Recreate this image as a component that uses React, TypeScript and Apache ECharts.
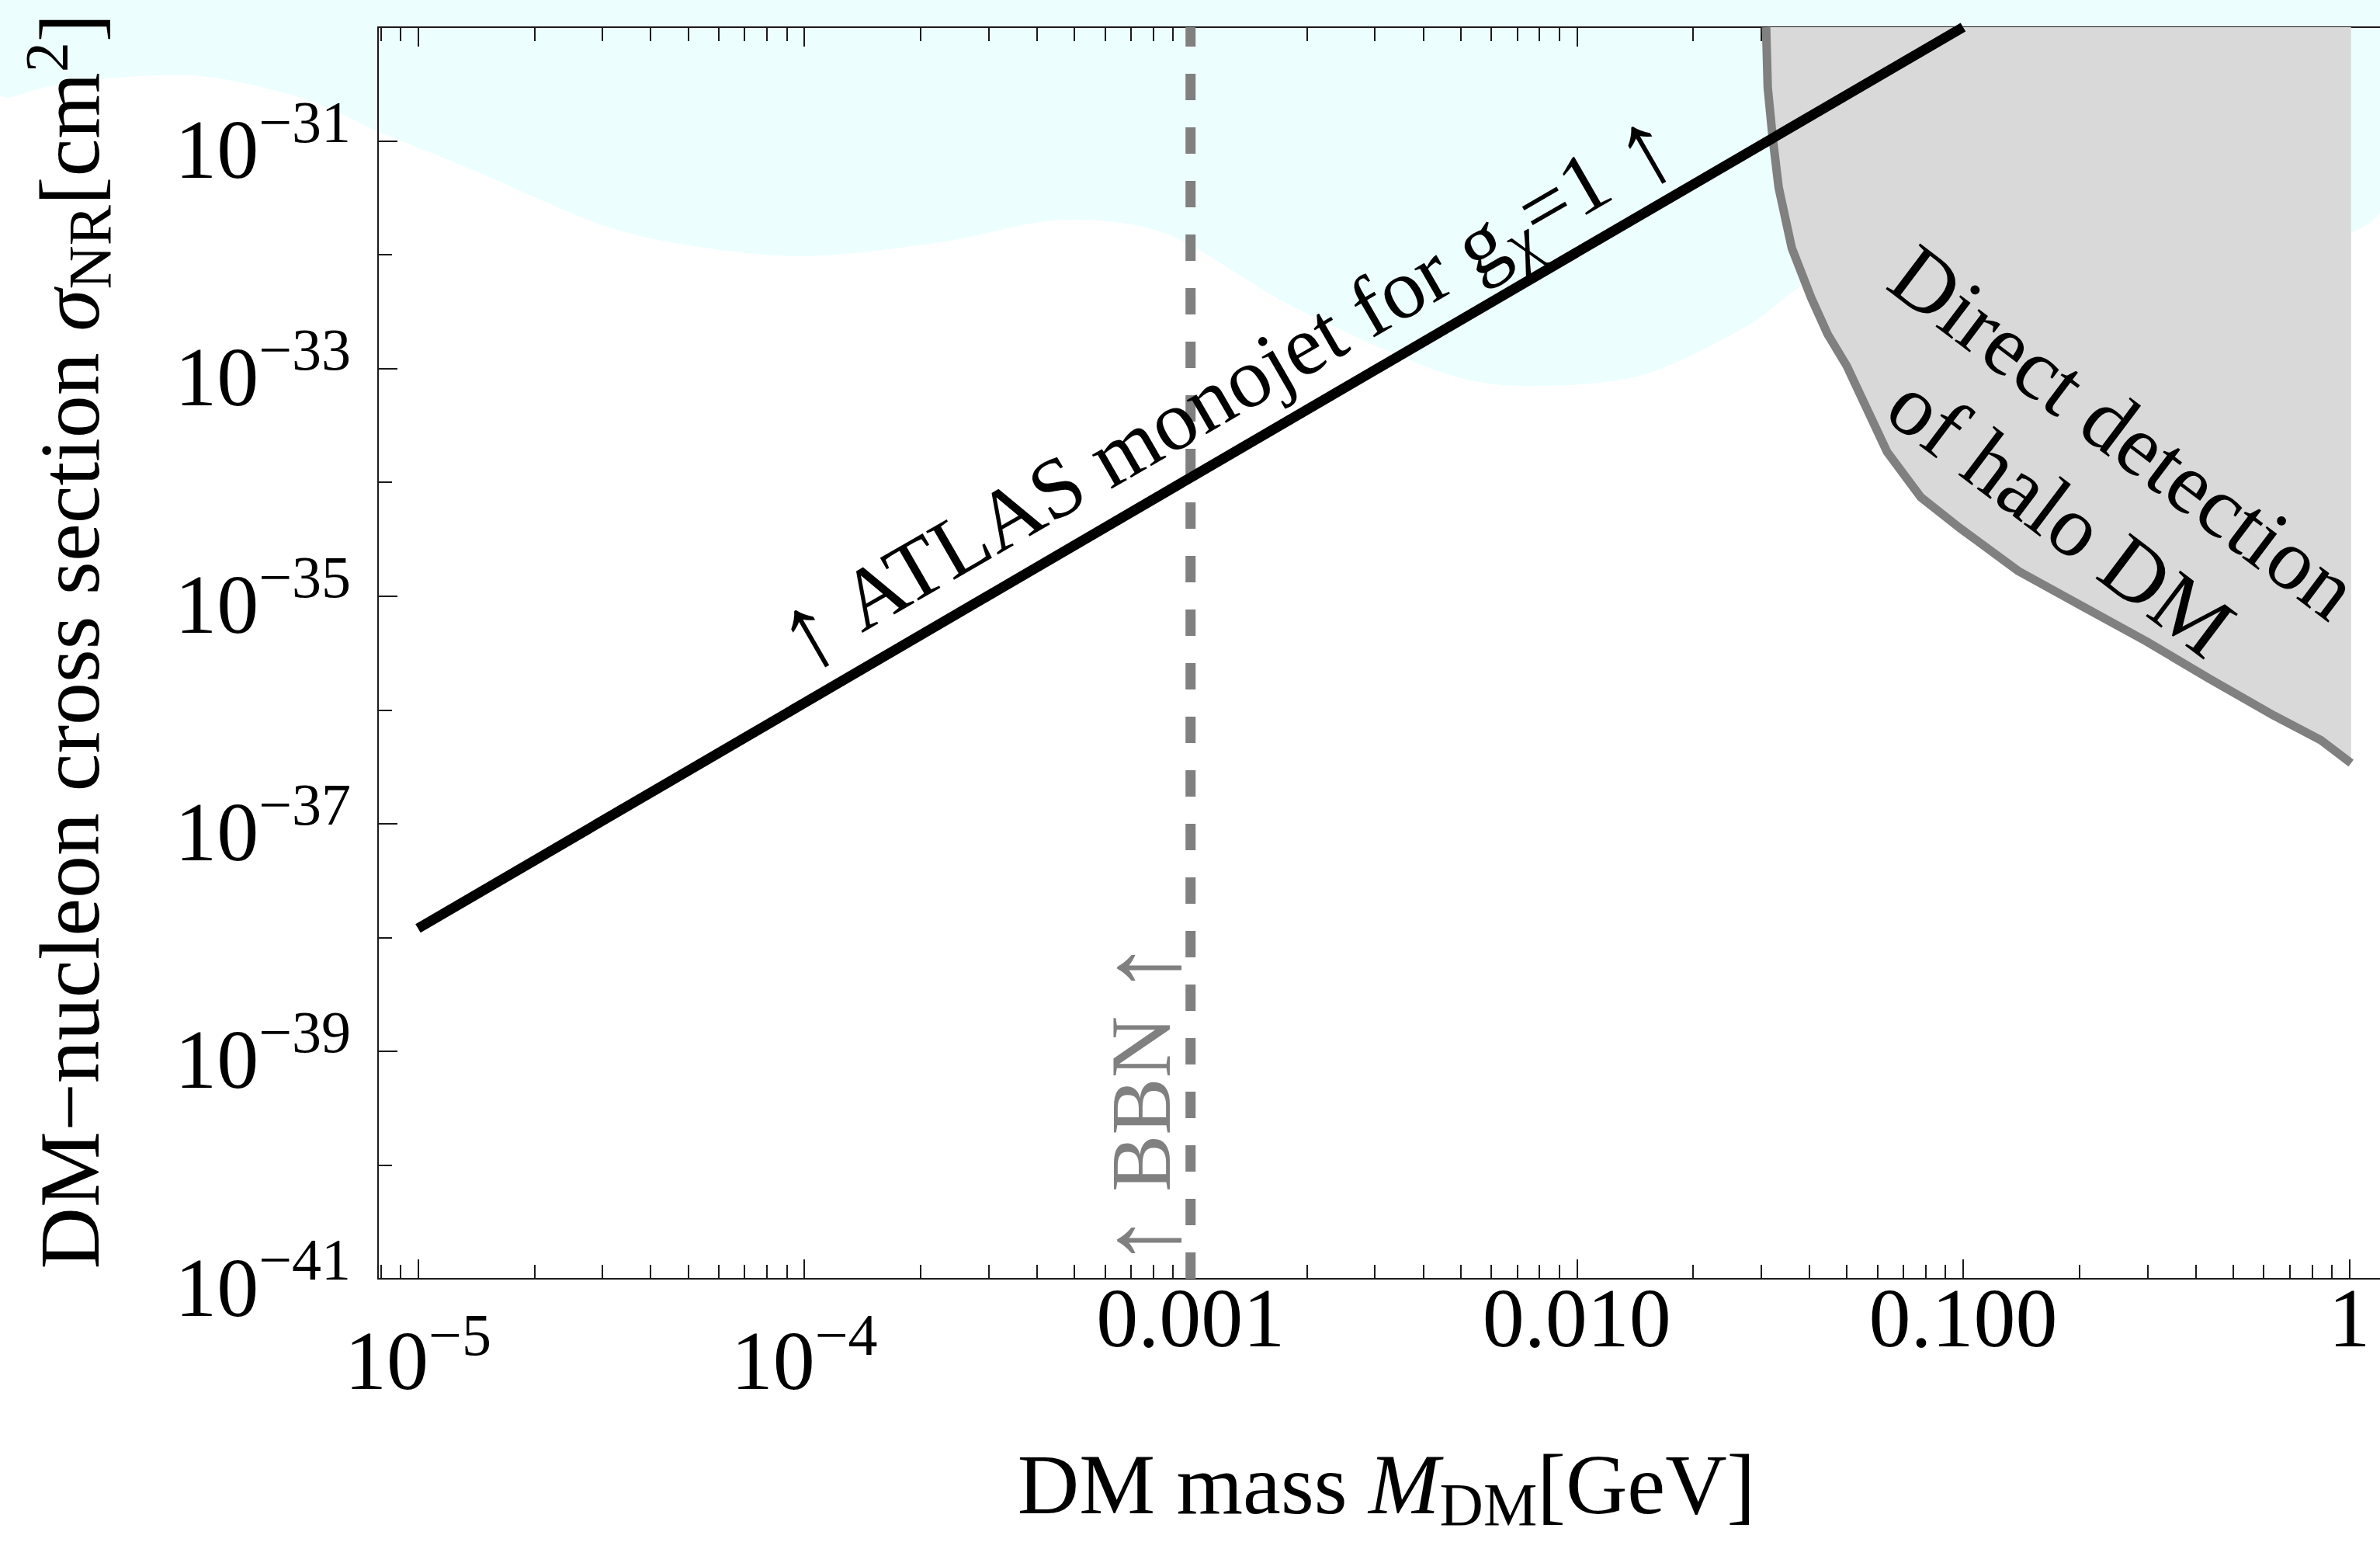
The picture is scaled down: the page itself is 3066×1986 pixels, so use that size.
import { useEffect, useRef } from 'react';
import * as echarts from 'echarts';

const FONT = "'Liberation Serif', 'Times New Roman', Times, serif";
const W = 3066;
const H = 1986;

// ATLAS monojet bound for g_chi = 1  (mass in GeV, cross section in cm^2)
const atlasMass = [1e-5, 1e-4, 1e-3, 1e-2, 1e-1];
const atlasSigma = [1.2e-38, 1.15e-36, 1.1e-34, 1.05e-32, 1.0e-30];

// Boundary of the region excluded by direct detection of halo DM
const haloMass = [0.0309, 0.0312, 0.0321, 0.0333, 0.036, 0.0404, 0.0446, 0.05, 0.0635, 0.0777, 0.0977, 0.139, 0.204, 0.298, 0.436, 0.638, 0.844, 1.01];
const haloSigma = [1e-30, 2.95e-31, 1.1e-31, 3.9e-32, 1.15e-32, 4.2e-33, 2.0e-33, 1.05e-33, 1.86e-34, 7.4e-35, 4.0e-35, 1.66e-35, 8.1e-36, 4.0e-36, 1.86e-36, 8.9e-37, 5.4e-37, 3.4e-37];

// BBN bound (vertical line)
const bbnMass = [1e-3, 1e-3];
const bbnSigma = [1e-41, 1e-30];

// axes
const xRange = [7.88e-6, 1.2];
const yRange = [1e-41, 1e-30];
const xMajorTicks = [1e-5, 1e-4, 1e-3, 1e-2, 1e-1, 1];
const xTickLabels = ['10^−5', '10^−4', '0.001', '0.010', '0.100', '1'];
const xMinorDecades = [1e-6, 1e-5, 1e-4, 1e-3, 1e-2, 1e-1];
const xMinorSteps = [2, 3, 4, 5, 6, 7, 8, 9];
const yLabelTicks = [1e-41, 1e-39, 1e-37, 1e-35, 1e-33, 1e-31];
const yTickLabels = ['10^−41', '10^−39', '10^−37', '10^−35', '10^−33', '10^−31'];
const yMinorTicks = [1e-40, 1e-38, 1e-36, 1e-34, 1e-32];

// decorative background wave (pixel coordinates)
const bgWave = [
  [0, 0], [3066, 0], [3066, 275], [2800, 330], [2500, 335], [2346, 355], [2249, 421], [2112, 484],
  [1955, 497], [1858, 480], [1662, 393], [1500, 300], [1369, 283], [1212, 312], [1036, 330],
  [900, 318], [782, 292], [600, 215], [489, 170], [400, 130], [300, 104], [242, 97], [150, 100],
  [60, 112], [0, 122],
];

const lg = Math.log10;

export default function App() {
  const ref = useRef<HTMLDivElement>(null);
  useEffect(() => {
    if (!ref.current) return;
    const chart = echarts.init(ref.current, null, { renderer: 'svg' });

    const gridLeft = 487;
    const gridTop = 35;
    const gridBottomPx = 1647;
    const xMinL = lg(xRange[0]);
    const xMaxL = lg(xRange[1]);
    const pxPerDecade = 500.7;
    const gridWidth = (xMaxL - xMinL) * pxPerDecade;
    const gridRight = W - gridLeft - gridWidth;

    const xMajorLogs = xMajorTicks.map(lg);
    const xMinorLogs: number[] = [];
    xMinorDecades.forEach((d) => xMinorSteps.forEach((k) => {
      const v = lg(k * d);
      if (v > xMinL && v < xMaxL) xMinorLogs.push(v);
    }));
    const yLabelLogs = yLabelTicks.map(lg);
    const yMinorLogs = yMinorTicks.map(lg);

    const axisCol = '#1a1a1a';
    const lineStyle = { color: axisCol, width: 2 };

    const richLabel = (s: string, eb: string, es: string, p: string) => {
      const parts = s.split('^');
      if (parts.length === 2) return `{${eb}|${parts[0]}}{${es}|${parts[1]}}`;
      return `{${p}|${s}}`;
    };

    const xFormatter = (v: number) => {
      let idx = 0;
      let best = Infinity;
      xMajorLogs.forEach((t, i) => { const d = Math.abs(t - v); if (d < best) { best = d; idx = i; } });
      return richLabel(xTickLabels[idx], 'eb', 'es', 'p');
    };
    const yFormatter = (v: number) => {
      let idx = 0;
      let best = Infinity;
      yLabelLogs.forEach((t, i) => { const d = Math.abs(t - v); if (d < best) { best = d; idx = i; } });
      return richLabel(yTickLabels[idx], 'b', 's', 'b');
    };

    const xRich = {
      p: { fontSize: 108, fontFamily: FONT, color: '#000', height: 96, verticalAlign: 'top' },
      eb: { fontSize: 108, fontFamily: FONT, color: '#000', height: 206, verticalAlign: 'top' },
      es: { fontSize: 76, fontFamily: FONT, color: '#000', height: 140, verticalAlign: 'top' },
    };
    const yRich = {
      b: { fontSize: 108, fontFamily: FONT, color: '#000', height: 130, verticalAlign: 'middle' },
      s: { fontSize: 76, fontFamily: FONT, color: '#000', height: 58, verticalAlign: 'top' },
    };

    const xBase = {
      type: 'value', min: xMinL, max: xMaxL, splitLine: { show: false }, gridIndex: 0,
    };
    const yBase = {
      type: 'value', min: lg(yRange[0]), max: lg(yRange[1]), splitLine: { show: false }, gridIndex: 0,
    };

    const titleRich = {
      t: { fontSize: 110, fontFamily: FONT, fill: '#000', height: 140 },
      i: { fontSize: 110, fontFamily: FONT, fontStyle: 'italic', fill: '#000', height: 140 },
      s: { fontSize: 78, fontFamily: FONT, fill: '#000', height: 90, verticalAlign: 'bottom' },
      p: { fontSize: 78, fontFamily: FONT, fill: '#000', height: 78, verticalAlign: 'top' },
      a: { fontSize: 140, fontFamily: FONT, fill: '#000', height: 140 },
      ga: { fontSize: 140, fontFamily: FONT, fill: '#808080', height: 140 },
      g: { fontSize: 110, fontFamily: FONT, fill: '#808080', height: 140 },
    };

    const haloData = haloMass.map((m, i) => [lg(m), lg(haloSigma[i])]);

    const option: any = {
      animation: false,
      backgroundColor: '#ffffff',
      textStyle: { fontFamily: FONT },
      grid: { left: gridLeft, top: gridTop, right: gridRight, bottom: H - gridBottomPx, containLabel: false },
      xAxis: [
        {
          ...xBase, position: 'bottom',
          axisLine: { show: true, onZero: false, lineStyle },
          axisTick: { show: true, inside: true, length: 25, customValues: xMajorLogs, lineStyle },
          axisLabel: { show: true, customValues: xMajorLogs, formatter: xFormatter, rich: xRich, margin: 2, verticalAlign: 'top', fontFamily: FONT },
        },
        {
          ...xBase, position: 'bottom',
          axisLine: { show: false, onZero: false },
          axisTick: { show: true, inside: true, length: 18, customValues: xMinorLogs, lineStyle },
          axisLabel: { show: false },
        },
        {
          ...xBase, position: 'top',
          axisLine: { show: true, onZero: false, lineStyle },
          axisTick: { show: true, inside: true, length: 25, customValues: xMajorLogs, lineStyle },
          axisLabel: { show: false },
        },
        {
          ...xBase, position: 'top',
          axisLine: { show: false, onZero: false },
          axisTick: { show: true, inside: true, length: 18, customValues: xMinorLogs, lineStyle },
          axisLabel: { show: false },
        },
      ],
      yAxis: [
        {
          ...yBase, position: 'left',
          axisLine: { show: true, onZero: false, lineStyle },
          axisTick: { show: true, inside: true, length: 25, customValues: yLabelLogs, lineStyle },
          axisLabel: { show: true, customValues: yLabelLogs, formatter: yFormatter, rich: yRich, margin: 35, padding: [22, 0, 0, 0], fontFamily: FONT },
        },
        {
          ...yBase, position: 'left',
          axisLine: { show: false, onZero: false },
          axisTick: { show: true, inside: true, length: 18, customValues: yMinorLogs, lineStyle },
          axisLabel: { show: false },
        },
      ],
      series: [
        {
          type: 'line', name: 'Direct detection region', xAxisIndex: 0, yAxisIndex: 0,
          data: haloData,
          symbol: 'none', showSymbol: false, silent: true, z: 2,
          lineStyle: { width: 0, opacity: 0 },
          areaStyle: { color: '#d9d9d9', opacity: 1, origin: 'end' },
        },
        {
          type: 'line', name: 'Direct detection of halo DM', xAxisIndex: 0, yAxisIndex: 0,
          data: haloData,
          symbol: 'none', showSymbol: false, silent: true, z: 3,
          lineStyle: { color: '#808080', width: 11 },
        },
        {
          type: 'line', name: 'BBN', xAxisIndex: 0, yAxisIndex: 0,
          data: bbnMass.map((m, i) => [lg(m), lg(bbnSigma[i])]),
          symbol: 'none', showSymbol: false, silent: true, z: 3,
          lineStyle: { color: '#808080', width: 13, type: [34, 35] },
        },
        {
          type: 'line', name: 'ATLAS monojet', xAxisIndex: 0, yAxisIndex: 0,
          data: atlasMass.map((m, i) => [lg(m), lg(atlasSigma[i])]),
          symbol: 'none', showSymbol: false, silent: true, z: 4,
          lineStyle: { color: '#000000', width: 13 },
        },
      ],
      graphic: [
        {
          type: 'polygon', z: -10, silent: true,
          shape: { points: bgWave, smooth: 0.3 },
          style: { fill: '#edfefe' },
        },
        {
          type: 'text', x: 1786, y: 1912, z: 100, silent: true,
          style: {
            text: '{t|DM mass }{i|M}{s|DM}{t|[GeV]}',
            align: 'center', verticalAlign: 'middle', rich: titleRich,
          },
        },
        {
          type: 'text', x: 90, y: 826, z: 100, silent: true, rotation: Math.PI / 2,
          style: {
            text: '{t|DM−nucleon cross section }{i|σ}{s|NR}{t|[cm}{p|2}{t|]}',
            align: 'center', verticalAlign: 'middle', rich: titleRich,
          },
        },
        {
          type: 'text', x: 1579, y: 502, z: 100, silent: true, rotation: Math.PI / 6,
          style: {
            text: '{a|↑}{t| ATLAS monojet for g}{s|χ}{t|=1 }{a|↑}',
            align: 'center', verticalAlign: 'middle', rich: titleRich,
          },
        },
        {
          type: 'text', x: 1470, y: 1422, z: 100, silent: true, rotation: Math.PI / 2,
          style: {
            text: '{ga|↑}{g| BBN }{ga|↑}',
            align: 'center', verticalAlign: 'middle', rich: titleRich,
          },
        },
        {
          type: 'text', x: 2696, y: 610, z: 100, silent: true, rotation: -37 * Math.PI / 180,
          style: {
            text: 'Direct detection\nof halo DM', fontSize: 112, fontFamily: FONT, fill: '#000',
            align: 'center', verticalAlign: 'middle', lineHeight: 135,
          },
        },
      ],
    };

    chart.setOption(option);
    return () => chart.dispose();
  }, []);

  return (
    <div
      ref={ref}
      style={{ position: 'absolute', left: 0, top: 0, width: W, height: H, overflow: 'hidden' }}
    />
  );
}
